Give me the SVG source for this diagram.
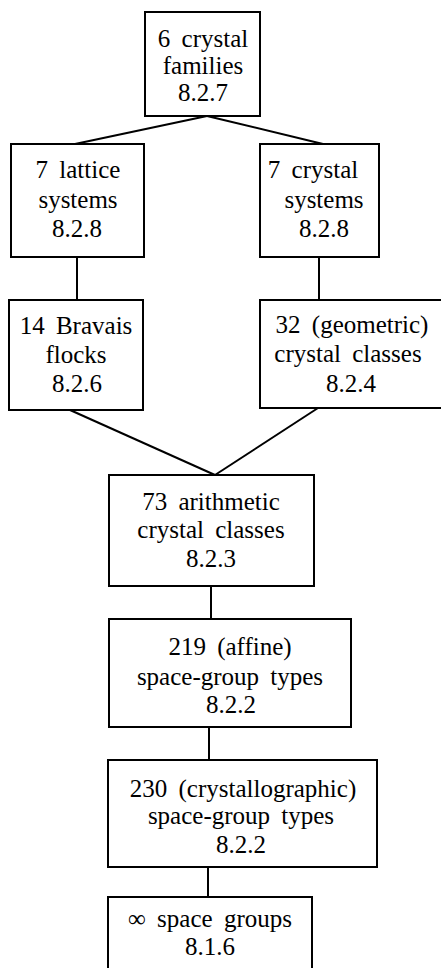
<svg xmlns="http://www.w3.org/2000/svg" width="441" height="968" viewBox="0 0 441 968">
<style>
.box{fill:#fff;stroke:#000;stroke-width:2}
.ln{stroke:#000;stroke-width:2;fill:none}
text{font-family:'Liberation Serif','Times New Roman',serif;font-size:25px;fill:#000;text-anchor:middle;word-spacing:5px}
</style>
<rect width="441" height="968" fill="#fff"/>
<g id="connectors">
<line class="ln" x1="207" y1="116" x2="75" y2="144"/>
<line class="ln" x1="207" y1="116" x2="323" y2="144"/>
<line class="ln" x1="77" y1="257" x2="77" y2="300"/>
<line class="ln" x1="319" y1="257" x2="319" y2="300"/>
<line class="ln" x1="70" y1="410" x2="215" y2="475"/>
<line class="ln" x1="318" y1="408" x2="215" y2="475"/>
<line class="ln" x1="211" y1="586" x2="211" y2="619"/>
<line class="ln" x1="209" y1="727" x2="209" y2="760"/>
<line class="ln" x1="208" y1="867" x2="208" y2="897"/>
</g>
<g id="n1">
<rect class="box" x="145" y="12" width="115" height="104"/>
<text x="203" y="47">6 crystal</text>
<text x="203" y="74">families</text>
<text x="203" y="101">8.2.7</text>
</g>
<g id="n2">
<rect class="box" x="11" y="144" width="133" height="113"/>
<text x="78" y="178">7 lattice</text>
<text x="78" y="208">systems</text>
<text x="77" y="237">8.2.8</text>
</g>
<g id="n3">
<rect class="box" x="260" y="144" width="119" height="113"/>
<text x="313" y="178">7 crystal</text>
<text x="324" y="208">systems</text>
<text x="324" y="237">8.2.8</text>
</g>
<g id="n4">
<rect class="box" x="9" y="300" width="134" height="110"/>
<text x="76" y="334">14 Bravais</text>
<text x="76" y="363">flocks</text>
<text x="77" y="392">8.2.6</text>
</g>
<g id="n5">
<rect class="box" x="260" y="300" width="190" height="108"/>
<text x="352" y="333">32 (geometric)</text>
<text x="348" y="362">crystal classes</text>
<text x="351" y="392">8.2.4</text>
</g>
<g id="n6">
<rect class="box" x="109" y="475" width="205" height="111"/>
<text x="211" y="510">73 arithmetic</text>
<text x="211" y="538">crystal classes</text>
<text x="211" y="567">8.2.3</text>
</g>
<g id="n7">
<rect class="box" x="109" y="619" width="242" height="108"/>
<text x="230" y="655">219 (affine)</text>
<text x="230" y="685">space-group types</text>
<text x="231" y="713">8.2.2</text>
</g>
<g id="n8">
<rect class="box" x="108" y="760" width="269" height="107"/>
<text x="243" y="797">230 (crystallographic)</text>
<text x="241" y="824">space-group types</text>
<text x="241" y="853">8.2.2</text>
</g>
<g id="n9">
<rect class="box" x="108" y="897" width="204" height="80"/>
<text x="210" y="927">∞ space groups</text>
<text x="210" y="955">8.1.6</text>
</g>
</svg>
